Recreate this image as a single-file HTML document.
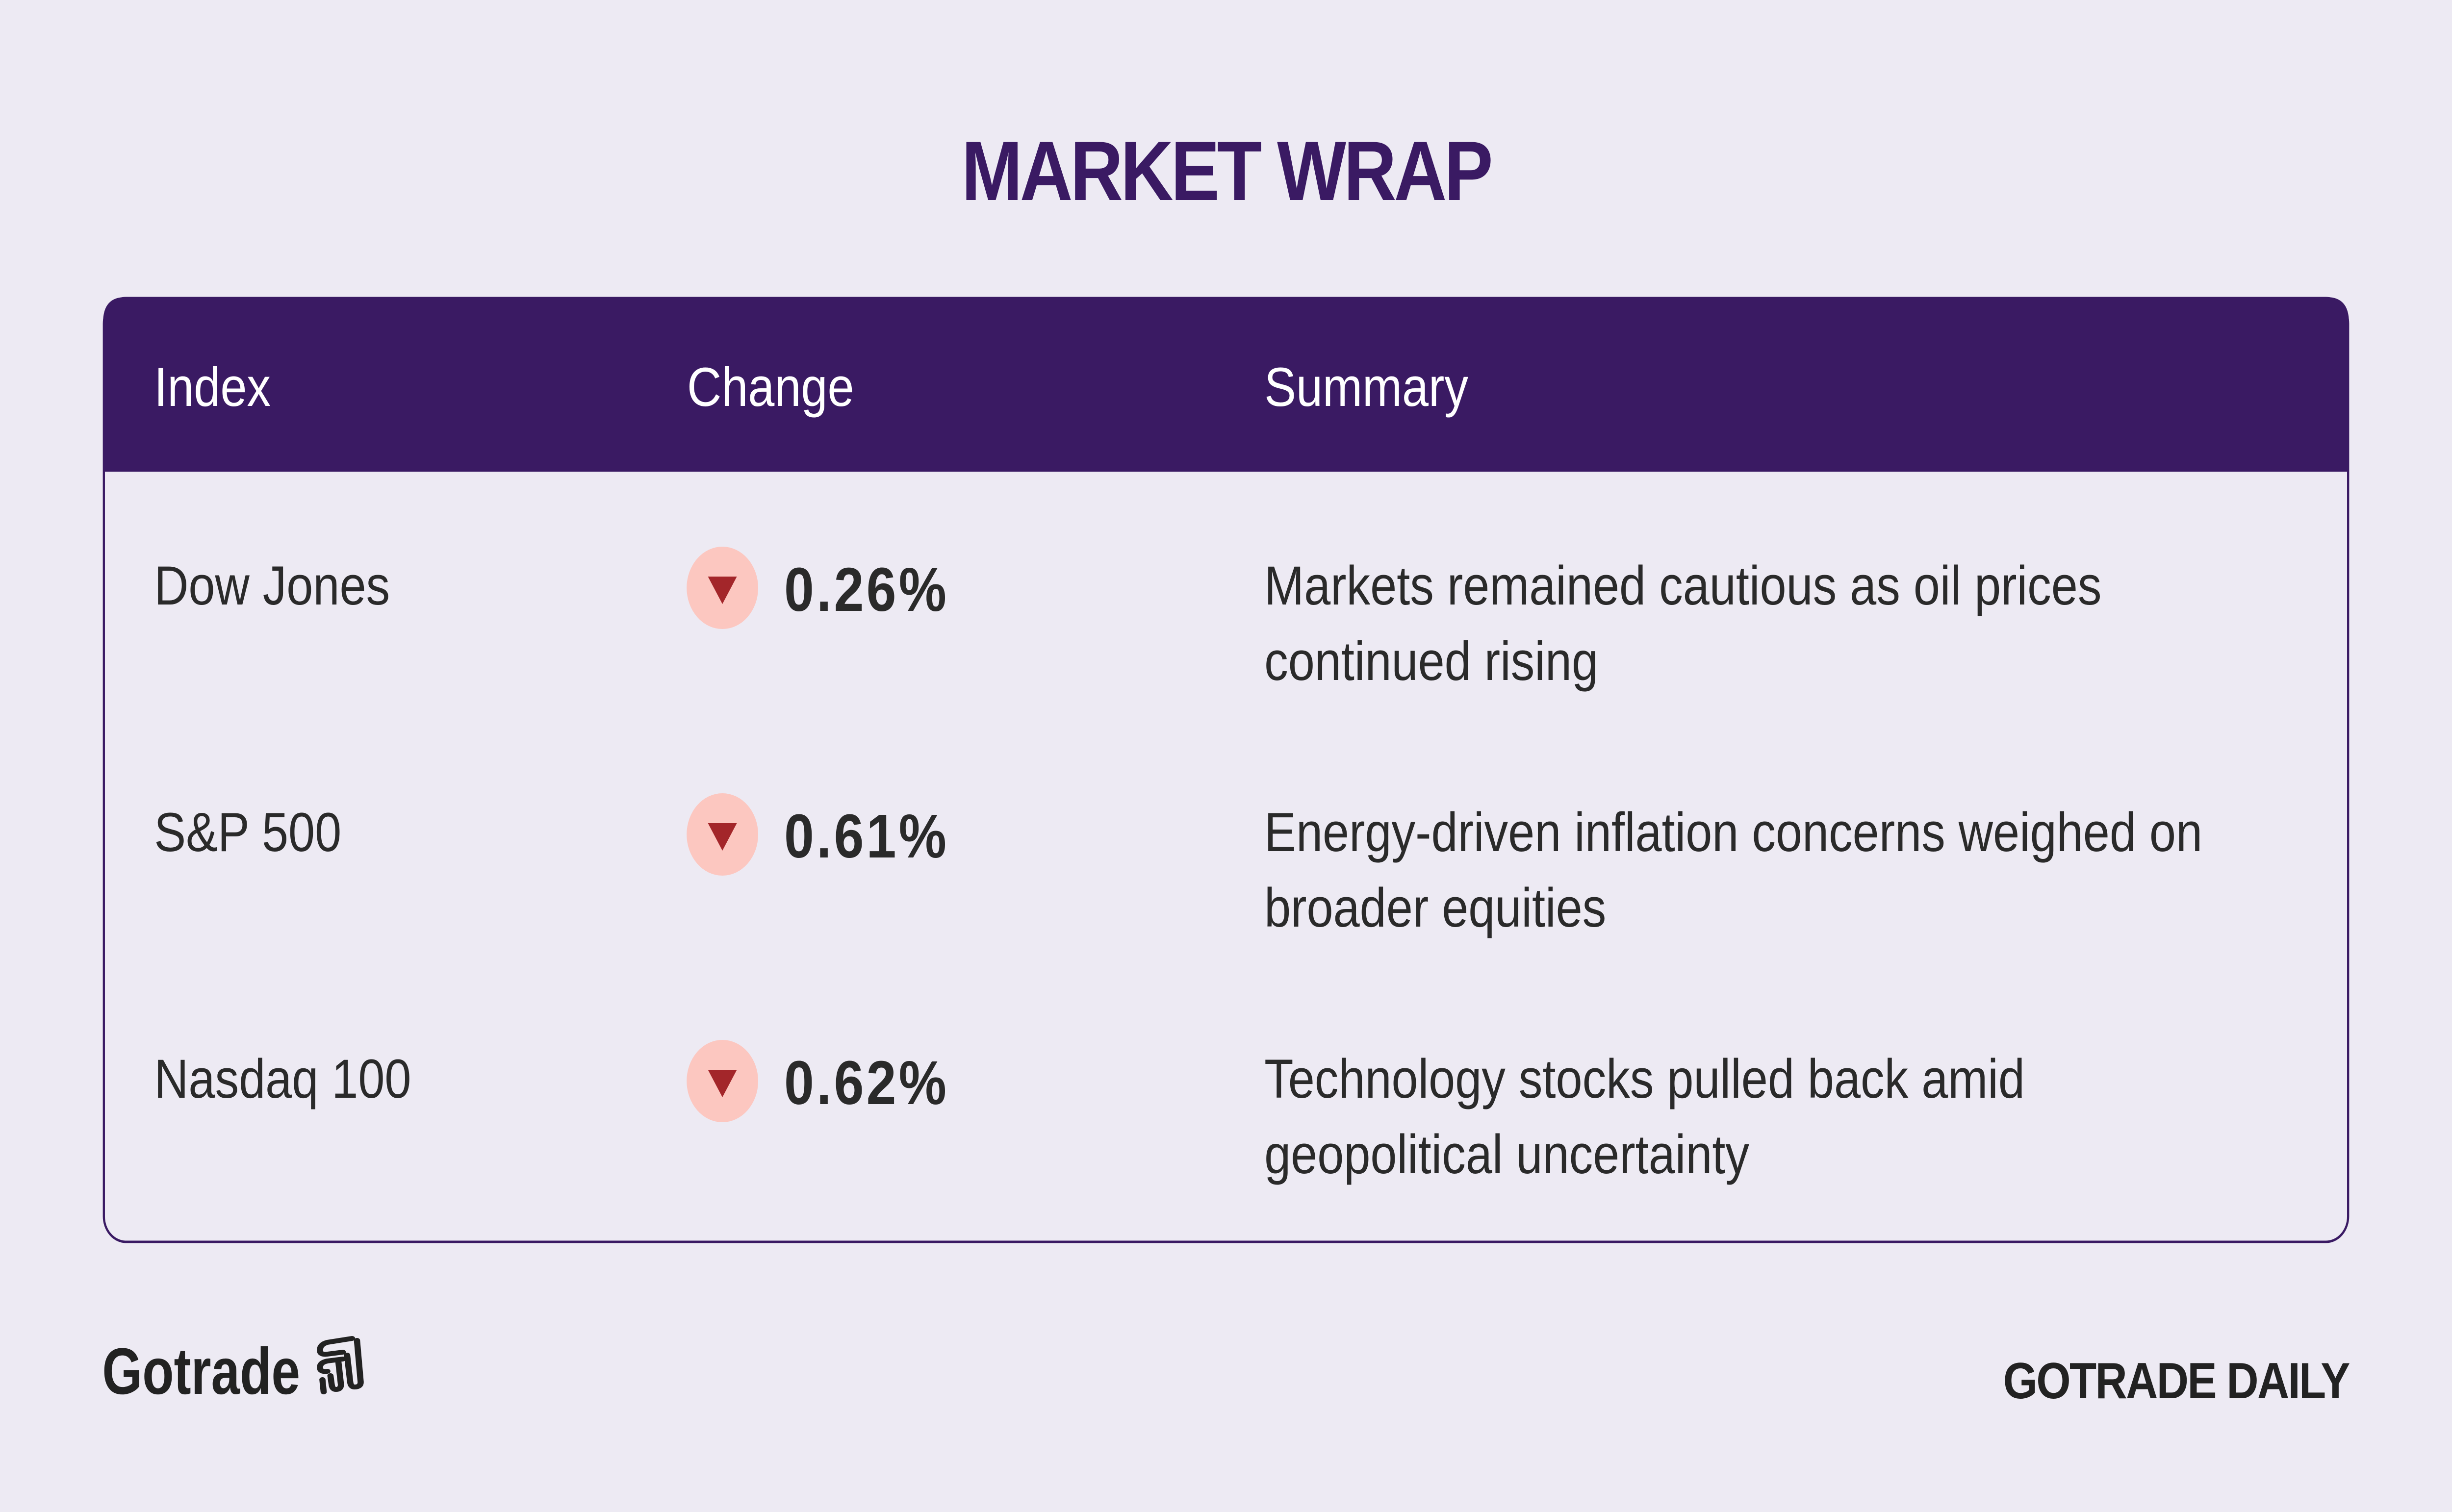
<!DOCTYPE html>
<html><head><meta charset="utf-8"><style>
html,body{margin:0;padding:0;width:100%;height:100%;overflow:hidden;background:#edeaf3}
svg{display:block;width:100vw;height:100vh}
text{font-family:"Liberation Sans",sans-serif}
</style></head><body>
<svg viewBox="0 0 5760 3084" preserveAspectRatio="none">
<rect x="0" y="0" width="5760" height="3084" fill="#edeaf3"/>
<text x="2880" y="408" text-anchor="middle" font-size="172" font-weight="900" fill="#3a1a63" letter-spacing="-6">MARKET WRAP</text>
<g>
<rect x="244" y="608" width="5272" height="1925" rx="52" fill="none" stroke="#3a1a63" stroke-width="5"/>
<path d="M242 658 Q242 606 294 606 L5466 606 Q5518 606 5518 658 L5518 962 L242 962 Z" fill="#3a1a63"/>
<text x="362" y="828" font-size="112" fill="#fff">Index</text>
<text x="1614" y="828" font-size="112" fill="#fff">Change</text>
<text x="2970" y="828" font-size="112" fill="#fff">Summary</text>
<g>
<text x="362" y="1233" font-size="112" fill="#2a2a2a">Dow Jones</text>
<circle cx="1697" cy="1199" r="84" fill="#fcc7c0"/>
<path d="M1663 1176 L1731 1176 L1697 1232 Z" fill="#a3262a"/>
<text x="1842" y="1246" font-size="126" font-weight="bold" letter-spacing="6" fill="#2a2a2a">0.26%</text>
<text x="2970" y="1233" font-size="112" fill="#2a2a2a">Markets remained cautious as oil prices</text>
<text x="2970" y="1387" font-size="112" fill="#2a2a2a">continued rising</text>
</g>
<g>
<text x="362" y="1736" font-size="112" fill="#2a2a2a">S&amp;P 500</text>
<circle cx="1697" cy="1702" r="84" fill="#fcc7c0"/>
<path d="M1663 1679 L1731 1679 L1697 1735 Z" fill="#a3262a"/>
<text x="1842" y="1749" font-size="126" font-weight="bold" letter-spacing="6" fill="#2a2a2a">0.61%</text>
<text x="2970" y="1736" font-size="112" fill="#2a2a2a">Energy-driven inflation concerns weighed on</text>
<text x="2970" y="1890" font-size="112" fill="#2a2a2a">broader equities</text>
</g>
<g>
<text x="362" y="2239" font-size="112" fill="#2a2a2a">Nasdaq 100</text>
<circle cx="1697" cy="2205" r="84" fill="#fcc7c0"/>
<path d="M1663 2182 L1731 2182 L1697 2238 Z" fill="#a3262a"/>
<text x="1842" y="2252" font-size="126" font-weight="bold" letter-spacing="6" fill="#2a2a2a">0.62%</text>
<text x="2970" y="2239" font-size="112" fill="#2a2a2a">Technology stocks pulled back amid</text>
<text x="2970" y="2393" font-size="112" fill="#2a2a2a">geopolitical uncertainty</text>
</g>
</g>
<text x="240" y="2843" font-size="134" font-weight="bold" fill="#222" textLength="465" lengthAdjust="spacingAndGlyphs">Gotrade</text>
<g transform="translate(740,2724) scale(1.45,1)" fill="none" stroke="#222" stroke-width="10" stroke-linecap="round">
<path d="M60 6 L20 14 Q8 18 8 30 Q8 40 20 38 L45 34"/>
<path d="M45 48 L20 52 Q8 55 8 65 Q8 75 20 73"/>
<path d="M68 10 L74 95 Q74 105 64 105 Q58 105 57 95 L52 40"/>
<path d="M38 55 L42 100 Q42 110 34 110 Q28 110 27 100 L25 82"/>
<path d="M12 90 L14 115"/>
</g>
<text x="5518" y="2852" text-anchor="end" font-size="104" font-weight="900" fill="#222" letter-spacing="-3">GOTRADE DAILY</text>
</svg>
</body></html>
